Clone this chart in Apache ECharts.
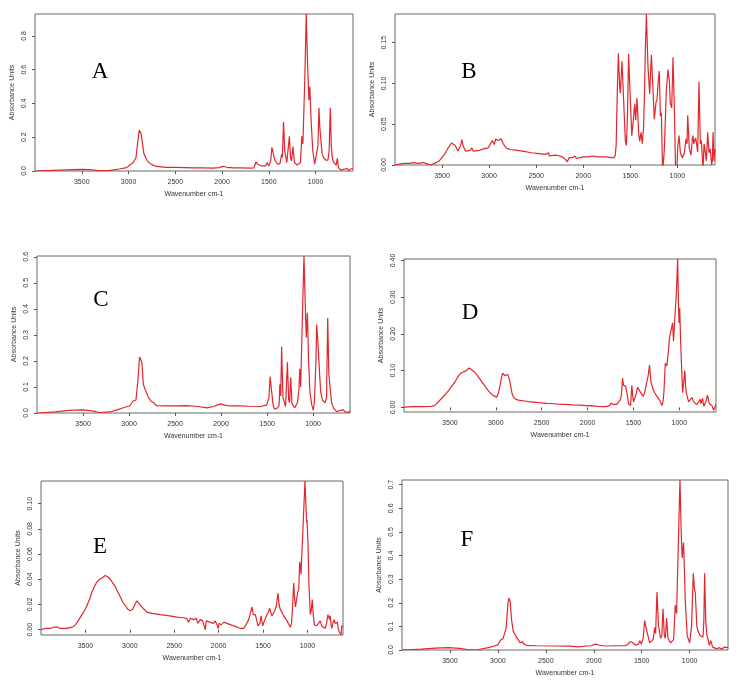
<!DOCTYPE html>
<html>
<head>
<meta charset="utf-8">
<script src="https://cdn.jsdelivr.net/npm/echarts@6.0.0/dist/echarts.min.js"></script>
<style>
  html, body { margin: 0; padding: 0; background: #fff; }
  #chart { width: 744px; height: 700px; }
</style>
</head>
<body>
<div id="chart"></div>
<script>
// spectra: [wavenumber cm-1, absorbance]
const specA = [
  [4000,0.0],[3800,0.004],[3600,0.008],[3500,0.010],[3420,0.008],[3320,0.002],[3200,0.004],[3100,0.012],
  [3020,0.02],[2975,0.04],[2950,0.05],[2920,0.08],[2900,0.18],[2885,0.243],[2875,0.235],[2865,0.22],
  [2850,0.16],[2835,0.1],[2820,0.085],[2800,0.06],[2770,0.045],[2740,0.035],[2700,0.027],[2600,0.022],
  [2500,0.021],[2400,0.02],[2300,0.019],[2200,0.018],[2100,0.017],[2030,0.02],[1985,0.028],[1950,0.022],
  [1880,0.018],[1800,0.019],[1700,0.017],[1660,0.018],[1636,0.055],[1620,0.04],[1600,0.045],[1575,0.03],
  [1535,0.03],[1518,0.05],[1500,0.03],[1480,0.06],[1467,0.14],[1455,0.11],[1436,0.065],[1405,0.04],
  [1380,0.045],[1362,0.1],[1355,0.08],[1343,0.29],[1330,0.12],[1308,0.05],[1280,0.205],[1268,0.08],
  [1257,0.06],[1242,0.145],[1226,0.05],[1196,0.035],[1162,0.05],[1147,0.205],[1136,0.16],[1115,0.55],
  [1100,0.93],[1085,0.62],[1072,0.42],[1062,0.5],[1048,0.3],[1030,0.12],[1010,0.04],[995,0.04],
  [975,0.15],[964,0.375],[955,0.26],[946,0.2],[930,0.1],[915,0.08],[893,0.065],[868,0.065],[855,0.12],
  [843,0.375],[832,0.15],[820,0.07],[805,0.05],[780,0.035],[768,0.075],[755,0.02],[730,0.005],[700,0.01],
  [680,0.0],[660,0.015],[645,0.0],[630,0.012],[614,0.005],[600,0.015]
];
const specB = [
  [4000,0.0],[3950,0.001],[3900,0.002],[3850,0.002],[3800,0.003],[3750,0.002],[3700,0.003],[3650,0.001],
  [3620,0.0],[3580,0.002],[3530,0.005],[3480,0.012],[3440,0.02],[3400,0.027],[3384,0.028],[3360,0.024],
  [3330,0.017],[3318,0.015],[3300,0.025],[3290,0.031],[3275,0.023],[3250,0.017],[3230,0.016],[3200,0.018],
  [3185,0.021],[3170,0.017],[3150,0.016],[3100,0.018],[3050,0.02],[3010,0.021],[2990,0.02],[2966,0.03],
  [2945,0.025],[2930,0.032],[2920,0.033],[2905,0.03],[2890,0.031],[2870,0.032],[2850,0.026],[2820,0.021],
  [2780,0.019],[2700,0.018],[2647,0.017],[2550,0.015],[2470,0.014],[2400,0.013],[2370,0.015],[2360,0.011],
  [2300,0.012],[2250,0.011],[2222,0.01],[2200,0.008],[2185,0.01],[2169,0.004],[2150,0.009],[2116,0.009],
  [2090,0.011],[2070,0.008],[2050,0.01],[2000,0.01],[1939,0.01],[1900,0.011],[1850,0.01],[1800,0.01],
  [1761,0.01],[1700,0.009],[1673,0.009],[1660,0.012],[1650,0.025],[1640,0.08],[1627,0.137],[1613,0.097],
  [1606,0.088],[1588,0.127],[1571,0.08],[1553,0.03],[1542,0.024],[1530,0.06],[1518,0.136],[1500,0.08],
  [1484,0.036],[1464,0.06],[1453,0.075],[1443,0.055],[1429,0.082],[1411,0.04],[1400,0.029],[1386,0.04],
  [1372,0.026],[1360,0.045],[1351,0.08],[1340,0.14],[1329,0.185],[1320,0.15],[1312,0.12],[1294,0.087],
  [1276,0.135],[1262,0.1],[1245,0.056],[1227,0.077],[1216,0.08],[1202,0.105],[1192,0.115],[1180,0.06],
  [1170,0.064],[1162,0.02],[1156,-0.01],[1145,-0.01],[1138,0.02],[1117,0.092],[1099,0.117],[1085,0.103],
  [1075,0.076],[1060,0.07],[1046,0.132],[1032,0.07],[1020,0.0],[1015,-0.01],[1005,-0.005],[996,0.022],
  [982,0.036],[968,0.015],[947,0.009],[926,0.015],[908,0.032],[897,0.026],[890,0.061],[873,0.02],
  [855,0.012],[840,0.033],[834,0.036],[825,0.026],[816,0.03],[805,0.033],[798,0.035],[784,0.016],
  [770,0.102],[756,0.026],[745,0.03],[735,0.01],[727,-0.005],[716,0.026],[708,0.02],[692,0.005],
  [678,0.04],[664,0.015],[650,0.02],[636,0.0],[628,0.005],[621,0.04],[611,0.005],[600,0.02]
];
const specC = [
  [4000,0.0],[3800,0.004],[3650,0.01],[3500,0.012],[3400,0.008],[3320,0.002],[3210,0.004],[3130,0.012],
  [3060,0.02],[2990,0.028],[2960,0.045],[2925,0.05],[2905,0.12],[2886,0.215],[2872,0.205],[2860,0.19],
  [2845,0.11],[2825,0.09],[2810,0.085],[2790,0.06],[2760,0.045],[2735,0.04],[2700,0.028],[2600,0.027],
  [2500,0.027],[2372,0.028],[2250,0.025],[2155,0.02],[2080,0.025],[2010,0.035],[1960,0.03],[1900,0.027],
  [1800,0.027],[1700,0.026],[1580,0.025],[1505,0.03],[1480,0.06],[1468,0.14],[1452,0.085],[1435,0.03],
  [1420,0.015],[1385,0.02],[1370,0.03],[1362,0.11],[1352,0.065],[1343,0.255],[1328,0.06],[1300,0.025],
  [1290,0.03],[1280,0.195],[1266,0.05],[1256,0.04],[1244,0.137],[1230,0.035],[1200,0.02],[1170,0.04],
  [1155,0.09],[1145,0.17],[1136,0.1],[1115,0.4],[1100,0.603],[1085,0.4],[1075,0.29],[1063,0.385],
  [1050,0.2],[1035,0.08],[1015,0.03],[998,0.01],[985,0.05],[970,0.2],[962,0.34],[950,0.28],[944,0.275],
  [930,0.15],[918,0.08],[900,0.05],[870,0.04],[855,0.06],[842,0.365],[830,0.15],[817,0.1],[800,0.04],
  [780,0.02],[745,0.005],[710,0.01],[690,0.003],[672,0.012],[650,0.003],[636,0.01],[615,0.003],[600,0.008]
];
const specD = [
  [4000,0.001],[3900,0.002],[3807,0.002],[3700,0.003],[3660,0.006],[3644,0.01],[3589,0.025],[3516,0.045],
  [3444,0.07],[3400,0.088],[3370,0.095],[3335,0.098],[3310,0.103],[3287,0.107],[3260,0.102],[3226,0.095],
  [3190,0.083],[3153,0.07],[3115,0.057],[3080,0.045],[3050,0.037],[3026,0.032],[2989,0.028],[2970,0.04],
  [2953,0.06],[2935,0.085],[2924,0.093],[2910,0.09],[2898,0.086],[2885,0.088],[2870,0.09],[2862,0.089],
  [2850,0.075],[2836,0.055],[2820,0.035],[2807,0.028],[2780,0.022],[2753,0.02],[2650,0.016],[2535,0.013],
  [2450,0.011],[2353,0.01],[2345,0.013],[2330,0.009],[2250,0.008],[2171,0.007],[2160,0.002],[2150,0.007],
  [2080,0.006],[1989,0.004],[1960,0.005],[1900,0.003],[1807,0.002],[1760,0.004],[1745,0.012],[1735,0.017],
  [1720,0.008],[1706,0.004],[1680,0.008],[1662,0.012],[1645,0.02],[1633,0.03],[1618,0.08],[1608,0.06],
  [1600,0.055],[1586,0.058],[1571,0.04],[1553,0.01],[1531,0.005],[1517,0.06],[1505,0.025],[1498,0.015],
  [1480,0.02],[1466,0.04],[1455,0.055],[1445,0.05],[1433,0.045],[1415,0.04],[1393,0.03],[1378,0.04],
  [1365,0.045],[1353,0.07],[1340,0.085],[1324,0.115],[1309,0.07],[1298,0.06],[1287,0.05],[1278,0.048],
  [1269,0.04],[1255,0.035],[1244,0.03],[1230,0.025],[1215,0.02],[1200,0.015],[1189,0.005],[1178,0.015],
  [1168,0.04],[1160,0.08],[1153,0.12],[1145,0.12],[1135,0.113],[1120,0.15],[1106,0.19],[1091,0.185],
  [1073,0.23],[1063,0.18],[1047,0.25],[1030,0.32],[1018,0.405],[1008,0.27],[1003,0.23],[995,0.27],
  [988,0.2],[978,0.13],[964,0.04],[955,0.06],[940,0.1],[932,0.06],[924,0.04],[898,0.015],[880,0.02],
  [862,0.027],[848,0.018],[833,0.012],[808,0.008],[790,0.01],[771,0.022],[764,0.01],[755,0.015],
  [746,0.025],[738,0.01],[731,0.003],[717,0.005],[705,0.02],[695,0.033],[685,0.025],[673,0.01],
  [655,0.008],[644,0.005],[626,-0.008],[615,-0.012],[605,-0.005],[600,0.008]
];
const specE = [
  [4000,0.0],[3950,0.001],[3895,0.001],[3860,0.002],[3840,0.001],[3820,0.002],[3780,0.001],[3707,0.001],
  [3650,0.002],[3625,0.003],[3590,0.006],[3557,0.01],[3520,0.014],[3490,0.018],[3455,0.024],[3426,0.03],
  [3400,0.034],[3370,0.038],[3340,0.04],[3313,0.041],[3276,0.043],[3250,0.042],[3220,0.04],[3190,0.037],
  [3163,0.034],[3135,0.03],[3107,0.026],[3080,0.022],[3050,0.019],[3020,0.016],[2994,0.015],[2970,0.016],
  [2957,0.017],[2935,0.021],[2919,0.023],[2900,0.021],[2882,0.02],[2850,0.017],[2807,0.014],[2750,0.013],
  [2656,0.012],[2550,0.011],[2469,0.01],[2400,0.0095],[2360,0.009],[2350,0.01],[2340,0.006],[2320,0.009],
  [2280,0.008],[2250,0.009],[2235,0.005],[2206,0.008],[2180,0.007],[2160,0.008],[2150,0.0],[2140,0.007],
  [2100,0.006],[2060,0.005],[2040,0.007],[2018,0.004],[2005,0.001],[1995,0.005],[1970,0.004],[1940,0.006],
  [1906,0.005],[1870,0.004],[1831,0.003],[1790,0.002],[1756,0.001],[1720,0.001],[1699,0.003],[1662,0.008],
  [1640,0.014],[1624,0.018],[1610,0.012],[1598,0.011],[1587,0.012],[1570,0.007],[1557,0.003],[1535,0.005],
  [1523,0.011],[1510,0.006],[1504,0.003],[1490,0.006],[1474,0.009],[1455,0.012],[1440,0.014],[1425,0.017],
  [1410,0.013],[1399,0.011],[1385,0.012],[1369,0.015],[1350,0.019],[1332,0.029],[1320,0.02],[1306,0.016],
  [1287,0.014],[1276,0.012],[1249,0.009],[1230,0.007],[1212,0.006],[1193,0.002],[1180,0.005],[1170,0.015],
  [1155,0.037],[1145,0.025],[1136,0.018],[1120,0.025],[1110,0.03],[1098,0.032],[1088,0.054],[1080,0.05],
  [1073,0.044],[1060,0.065],[1045,0.09],[1028,0.118],[1018,0.1],[1010,0.085],[1005,0.087],[995,0.07],
  [983,0.035],[968,0.012],[958,0.015],[946,0.024],[935,0.012],[923,0.004],[900,0.003],[875,0.005],
  [856,0.007],[840,0.003],[820,0.002],[800,0.001],[785,0.005],[770,0.012],[760,0.01],[751,0.008],
  [744,0.011],[735,0.004],[725,0.001],[712,0.006],[699,0.008],[688,0.005],[677,0.004],[665,0.006],
  [651,0.0],[640,-0.002],[632,-0.003],[622,-0.004],[613,0.003],[600,0.003]
];
const specF = [
  [4000,0.0],[3800,0.004],[3650,0.008],[3513,0.01],[3400,0.007],[3300,0.001],[3200,0.002],[3100,0.01],
  [3040,0.017],[3000,0.022],[2975,0.04],[2945,0.05],[2915,0.09],[2895,0.2],[2885,0.22],[2872,0.205],
  [2858,0.13],[2840,0.08],[2815,0.06],[2790,0.045],[2766,0.03],[2750,0.028],[2742,0.035],[2730,0.025],
  [2697,0.02],[2600,0.018],[2400,0.017],[2250,0.016],[2158,0.013],[2100,0.016],[2030,0.018],[1984,0.025],
  [1940,0.02],[1880,0.017],[1780,0.018],[1671,0.018],[1640,0.025],[1626,0.035],[1600,0.033],[1584,0.033],
  [1560,0.02],[1532,0.025],[1522,0.04],[1504,0.025],[1485,0.05],[1469,0.125],[1455,0.095],[1445,0.09],
  [1417,0.03],[1380,0.045],[1365,0.095],[1355,0.07],[1341,0.245],[1324,0.1],[1303,0.05],[1290,0.06],
  [1278,0.175],[1264,0.06],[1254,0.05],[1240,0.135],[1226,0.05],[1198,0.03],[1167,0.045],[1150,0.19],
  [1136,0.155],[1118,0.45],[1101,0.72],[1088,0.5],[1078,0.39],[1063,0.455],[1045,0.2],[1025,0.06],
  [1000,0.03],[980,0.1],[962,0.325],[950,0.26],[941,0.24],[925,0.1],[913,0.08],[889,0.06],[861,0.055],
  [852,0.12],[844,0.325],[832,0.12],[820,0.065],[805,0.04],[795,0.02],[780,0.04],[774,0.045],[760,0.012],
  [740,0.005],[715,0.005],[690,0.01],[680,0.012],[665,0.003],[656,0.005],[640,0.012],[620,0.005],[600,0.01]
];

const xTicks = [3500, 3000, 2500, 2000, 1500, 1000];
const yTicksA = [0, 0.2, 0.4, 0.6, 0.8];
const yTicksB = [0, 0.05, 0.10, 0.15];
const yTicksC = [0, 0.1, 0.2, 0.3, 0.4, 0.5, 0.6];
const yTicksD = [0, 0.10, 0.20, 0.30, 0.40];
const yTicksE = [0, 0.02, 0.04, 0.06, 0.08, 0.10];
const yTicksF = [0, 0.1, 0.2, 0.3, 0.4, 0.5, 0.6, 0.7];
const yRangeA = [0, 0.93];
const yRangeB = [0, 0.185];
const yRangeC = [0, 0.603];
const yRangeD = [-0.0125, 0.404];
const yRangeE = [-0.0042, 0.118];
const yRangeF = [0, 0.72];

const panels = [
  { tag: 'A', data: specA, range: yRangeA, ticks: yTicksA, digits: 1, box: [35, 14, 318, 157], at: [100, 72] },
  { tag: 'B', data: specB, range: yRangeB, ticks: yTicksB, digits: 2, box: [395, 14, 320, 151], at: [469, 72] },
  { tag: 'C', data: specC, range: yRangeC, ticks: yTicksC, digits: 1, box: [37, 256, 313, 157], at: [101, 300] },
  { tag: 'D', data: specD, range: yRangeD, ticks: yTicksD, digits: 2, box: [404, 259, 312, 153], at: [470, 313] },
  { tag: 'E', data: specE, range: yRangeE, ticks: yTicksE, digits: 2, box: [41, 481, 302, 154], at: [100, 547] },
  { tag: 'F', data: specF, range: yRangeF, ticks: yTicksF, digits: 1, box: [402, 480, 326, 170], at: [467, 540] }
];

const FONT = '"Liberation Sans", Arial, sans-serif';
const textStyle = { fontFamily: FONT, fontSize: 7, color: '#333' };

const chart = echarts.init(document.getElementById('chart'), null, { renderer: 'canvas' });

chart.setOption({
  animation: false,
  backgroundColor: '#fff',
  grid: panels.map((p) => ({
    left: p.box[0], top: p.box[1], width: p.box[2], height: p.box[3],
    show: true, borderColor: '#6b6b6b', borderWidth: 1, backgroundColor: 'transparent',
    containLabel: false, outerBoundsMode: 'none'
  })),
  xAxis: panels.map((p, i) => ({
    type: 'value', gridIndex: i, inverse: true, min: 600, max: 4000,
    name: 'Wavenumber cm-1', nameLocation: 'middle', nameGap: 20, nameTextStyle: textStyle,
    axisLine: { show: false },
    axisTick: { show: true, length: 3, customValues: xTicks, lineStyle: { color: '#555', width: 1 } },
    axisLabel: { customValues: xTicks, margin: 8, ...textStyle, formatter: (v) => String(v) },
    splitLine: { show: false }
  })),
  yAxis: panels.map((p, i) => ({
    type: 'value', gridIndex: i, min: p.range[0], max: p.range[1],
    name: 'Absorbance Units', nameLocation: 'middle', nameRotate: 90, nameGap: 19, nameTextStyle: textStyle,
    axisLine: { show: false },
    axisTick: { show: true, length: 3, customValues: p.ticks, lineStyle: { color: '#555', width: 1 } },
    axisLabel: {
      customValues: p.ticks, rotate: 90, margin: 7, ...textStyle,
      formatter: (v) => Number(v).toFixed(p.digits)
    },
    splitLine: { show: false }
  })),
  series: panels.map((p, i) => ({
    type: 'line', xAxisIndex: i, yAxisIndex: i, data: p.data,
    symbol: 'none', showSymbol: false, clip: true, silent: true,
    lineStyle: { color: '#e2262c', width: 1.2 }
  })),
  graphic: panels.map((p) => ({
    type: 'text', x: p.at[0], y: p.at[1],
    style: {
      text: p.tag, fill: '#000', align: 'center', verticalAlign: 'middle',
      font: '23px "Liberation Serif", "Times New Roman", serif'
    }
  }))
});
</script>
</body>
</html>
